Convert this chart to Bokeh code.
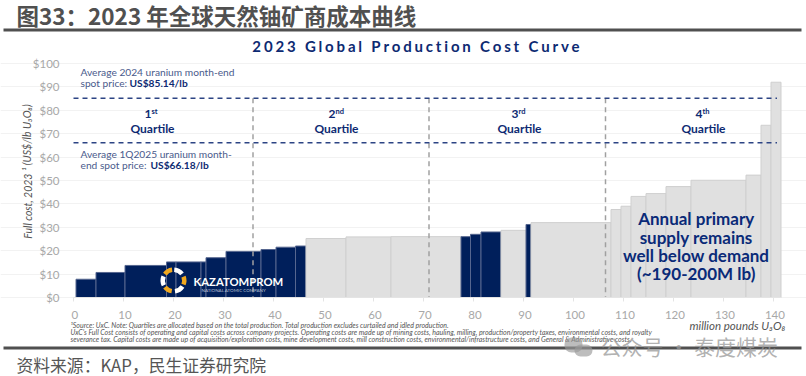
from bokeh.plotting import figure
from bokeh.embed import file_html
from bokeh.resources import INLINE
from bokeh.models import ColumnDataSource, Label, BoxAnnotation, FixedTicker, LinearAxis, Grid

# ---- data ----
edges = [0.5, 4.5, 10.3, 18.6, 20.5, 25.5, 26.5, 30.5, 37.5, 40.5, 44.4, 46.5,
         54.5, 63.5, 77.5, 79.4, 81.5, 85.5, 90.5, 91.5, 107.5, 109.5, 111.5,
         114.5, 118.5, 123.5, 134.5, 137.5, 139.5, 141.5]
costs = [7.8, 10.7, 13.7, 15.2, 15.2, 15.2, 17.0, 19.7, 20.5, 21.5, 22.0,
         25.2, 25.9, 26.0, 26.0, 27.0, 28.0, 28.7, 31.2, 32.0, 37.6, 39.0, 43.2,
         44.4, 47.4, 50.1, 52.3, 73.6, 92.0]
kap = [1]*11 + [0, 0, 0] + [1, 1, 1, 0, 1, 0] + [0]*9
quartile_x = [35.9, 71.1, 106.4]
spot_prices = [85.14, 66.18]
x_ticks = list(range(0, 141, 10))
y_ticks = list(range(0, 101, 10))
quartile_sup = [("1", "st", 152), ("2", "nd", 336), ("3", "rd", 519), ("4", "th", 703)]
footnotes = [
    "¹Source: UxC. Note: Quartiles are allocated based on the total production. Total production excludes curtailed and idled production.",
    "UxC's Full Cost consists of operating and capital costs across company projects. Operating costs are made up of mining costs, hauling, milling, production/property taxes, environmental costs, and royalty",
    "severance tax. Capital costs are made up of acquisition/exploration costs, mine development costs, mill construction costs, environmental/infrastructure costs, and General & Administrative costs.",
]
annotation_lines = ["Annual primary", "supply remains", "well below demand", "(~190-200M lb)"]

NAVY, GREY = "#001f5b", "#e0e0e0"
TXT_NAVY = "#0d2a72"
FONT = "Lato"
W, H = 806, 376
L, T, FW, FH = 73, 63, 709, 234
XMAX = FW / 5.0

def X(px): return (px - L) / 5.0
def Y(py): return (T + FH - py) * 100.0 / FH

# the frame fills the whole picture so nothing is clipped; the scale keeps 0..100 on the chart area
p = figure(width=W, height=H, output_backend="svg", toolbar_location=None,
           x_range=(X(0), X(W)), y_range=(Y(H), Y(0)),
           min_border=0, x_axis_type=None, y_axis_type=None, margin=(0, 0, 0, 0))
p.outline_line_color = None
p.background_fill_color = "white"

xa = LinearAxis(ticker=FixedTicker(ticks=x_ticks), fixed_location=0, bounds=(0, 141.5),
                major_label_overrides={t: "\u2009\u2009" + str(t) for t in x_ticks})
ya = LinearAxis(ticker=FixedTicker(ticks=y_ticks), fixed_location=0,
                major_label_overrides={t: "$" + str(t) for t in y_ticks})
p.add_layout(xa, "below")
p.add_layout(ya, "left")
for a in (xa, ya):
    a.major_label_text_color = "#a8a8a8"
    a.major_label_text_font = FONT
    a.major_label_text_font_size = "11.5px"
    a.minor_tick_line_color = None
xa.axis_line_color = "#e4e4e4"
xa.major_tick_line_color = "#e4e4e4"
xa.major_tick_in = 0
xa.major_tick_out = 4
xa.major_label_standoff = 6
ya.axis_line_color = None
ya.major_tick_line_color = None
ya.major_label_standoff = 8

p.add_layout(Grid(dimension=1, ticker=FixedTicker(ticks=y_ticks), grid_line_color="#f2f2f2",
                  bounds=(0, XMAX)))

src = ColumnDataSource(dict(
    left=edges[:-1], right=edges[1:], top=costs, bottom=[0]*len(costs),
    fill=[NAVY if k else GREY for k in kap],
    line=["#56668f" if k else "#cfcfcf" for k in kap]))
p.quad(left="left", right="right", top="top", bottom="bottom", source=src,
       fill_color="fill", line_color="line", line_width=1)

# price lines + quartile dividers
p.segment(x0=quartile_x, x1=quartile_x, y0=[spot_prices[0]]*3, y1=[0]*3,
          line_color="#a0a0a0", line_width=1.5, line_dash="5 4")
p.segment(x0=[0, 0], x1=[140.7, 140.7], y0=spot_prices, y1=spot_prices,
          line_color="#2c4484", line_width=1.5, line_dash="5 4")

def label(px, py, text, size, color, style="normal", align="left", font=FONT, angle=0, alpha=1.0):
    p.add_layout(Label(x=X(px), y=Y(py), text=text, text_font=font,
                       text_font_size=f"{size}px",
                       text_color=color, text_font_style=style, text_align=align,
                       text_baseline="middle", angle=angle, text_alpha=alpha))

# frame rules
for top, bot in ((28, 31), (346, 349)):
    p.add_layout(BoxAnnotation(left=X(3), right=X(801), top=Y(top), bottom=Y(bot),
                               fill_color="#505050", fill_alpha=1, line_color=None))

label(16, 14.5, "图33：2023 年全球天然铀矿商成本曲线", 22.5, "#505050", "bold", font="Noto Sans CJK SC")
label(415.5, 45, "\u2009\u200a".join("2023 Global Production Cost Curve"), 15, "#0d2a72", "bold", "center")

label(80, 71.5, "Average 2024 uranium month-end", 10.2, "#4a5a8c")
label(80, 82.5, "spot price: ", 10.2, "#4a5a8c")
label(129, 82.5, "US$85.14/lb", 10.2, TXT_NAVY, "bold")
label(80, 153, "Average 1Q2025 uranium month-", 10.2, "#4a5a8c")
label(80, 164.5, "end spot price: ", 10.2, "#4a5a8c")
label(150, 164.5, "US$66.18/lb", 10.2, TXT_NAVY, "bold")

for n, sup, cx in quartile_sup:
    label(cx - 1, 113.5, n, 12, TXT_NAVY, "bold", "right")
    label(cx - 1, 110.5, sup, 7.5, TXT_NAVY, "bold")
    label(cx, 127.5, "Quartile", 12, TXT_NAVY, "bold", "center")

for line, py in zip(annotation_lines, [218, 237, 254.5, 273]):
    label(695.7, py, line, 17, "#0a2a78", "bold", "center")

label(27, 171, "Full cost, 2023 ¹ (US$/lb U₃O₈)", 10.5, "#555555", "italic", "center", angle=1.5708)
label(785, 325, "million pounds U₃O₈", 11.5, "#555555", "italic", "right")

for line, py in zip(footnotes, [324.5, 331.5, 338.5]):
    label(70, py, line, 7, "#555555", "italic")

# logo
cx, cy = 173, 280
p.annular_wedge(x=[X(cx)]*6, y=[Y(cy)]*6, inner_radius=8.5, outer_radius=13,
                inner_radius_units="screen", outer_radius_units="screen",
                start_angle=[2.75, 3.8, 4.85, 5.9, 0.66, 1.7],
                end_angle=[3.6, 4.55, 5.7, 6.65, 1.5, 2.5],
                fill_color=["white", "#f0a81e"]*3, line_color=None)
label(193, 281, "KAZATOMPROM", 11.3, "white", "bold")
label(201, 289.5, "NATIONAL ATOMIC COMPANY", 4.5, "#b8c0d4")

label(16, 364, "资料来源：KAP，民生证券研究院", 16.8, "#555555", font="Noto Sans CJK SC")

# watermark
for lft, rgt, top, bot in ((564, 582, 337, 352), (574, 592, 344, 356)):
    p.add_layout(BoxAnnotation(left=X(lft), right=X(rgt), top=Y(top), bottom=Y(bot),
                               fill_color="#999999", fill_alpha=0.65, line_color=None,
                               border_radius=7))
label(600, 345, "公众号 · 泰度煤炭", 21, "#999999", font="Noto Sans CJK SC", alpha=0.75)

open("out.html", "w").write(file_html(p, INLINE))
